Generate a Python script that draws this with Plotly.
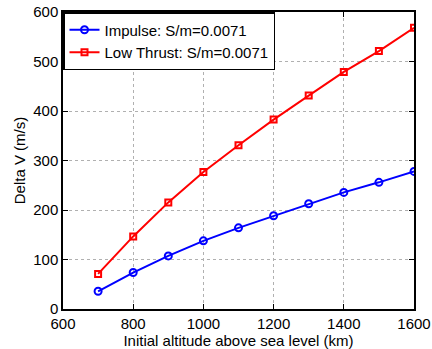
import plotly.graph_objects as go

altitude_km = [700, 800, 900, 1000, 1100, 1200, 1300, 1400, 1500, 1600]
impulse_dv = [35.8, 73.7, 107.3, 137.7, 164.0, 188.3, 212.6, 235.6, 255.9, 278.0]
low_thrust_dv = [70.9, 146.6, 215.4, 276.7, 330.8, 382.6, 431.2, 479.0, 521.0, 568.0]

x_ticks = [600, 800, 1000, 1200, 1400, 1600]
y_ticks = [0, 100, 200, 300, 400, 500, 600]

font_family = "Liberation Sans, Arial, Helvetica, sans-serif"

fig = go.Figure()
fig.add_trace(go.Scatter(
    x=altitude_km, y=impulse_dv, mode="lines+markers",
    name="Impulse: S/m=0.0071",
    line=dict(color="#0000ff", width=2),
    marker=dict(symbol="circle-open", size=7, color="#0000ff", line=dict(width=2)),
))
fig.add_trace(go.Scatter(
    x=altitude_km, y=low_thrust_dv, mode="lines+markers",
    name="Low Thrust: S/m=0.0071",
    line=dict(color="#ff0000", width=2),
    marker=dict(symbol="square-open", size=6, color="#ff0000", line=dict(width=2)),
))

axis_common = dict(
    showline=True, linecolor="black", linewidth=1.5, mirror="ticks",
    ticks="inside", ticklen=5, tickcolor="black", tickwidth=1,
    showgrid=True, gridcolor="#b0b0b0", gridwidth=1, griddash="dot",
    zeroline=False, automargin=False,
    tickfont=dict(size=15, color="black", family=font_family),
)

fig.update_xaxes(
    range=[600, 1600], tickvals=x_ticks,
    title=dict(text="Initial altitude above sea level (km)", standoff=0,
               font=dict(size=15, color="black", family=font_family)),
    **axis_common,
)
fig.update_yaxes(
    range=[0, 600], tickvals=y_ticks,
    title=dict(text="Delta V (m/s)", standoff=4,
               font=dict(size=15, color="black", family=font_family)),
    **axis_common,
)

fig.update_layout(
    width=432, height=349,
    margin=dict(l=63, r=18, t=12, b=40),
    plot_bgcolor="white", paper_bgcolor="white",
    font=dict(family=font_family, size=15, color="black"),
    legend=dict(
        x=0, y=1, xanchor="left", yanchor="top",
        bgcolor="white", bordercolor="black", borderwidth=1.5,
        font=dict(size=15, color="black", family=font_family),
        itemwidth=30, tracegroupgap=0,
    ),
    showlegend=True,
)

fig.write_html("out.html")
